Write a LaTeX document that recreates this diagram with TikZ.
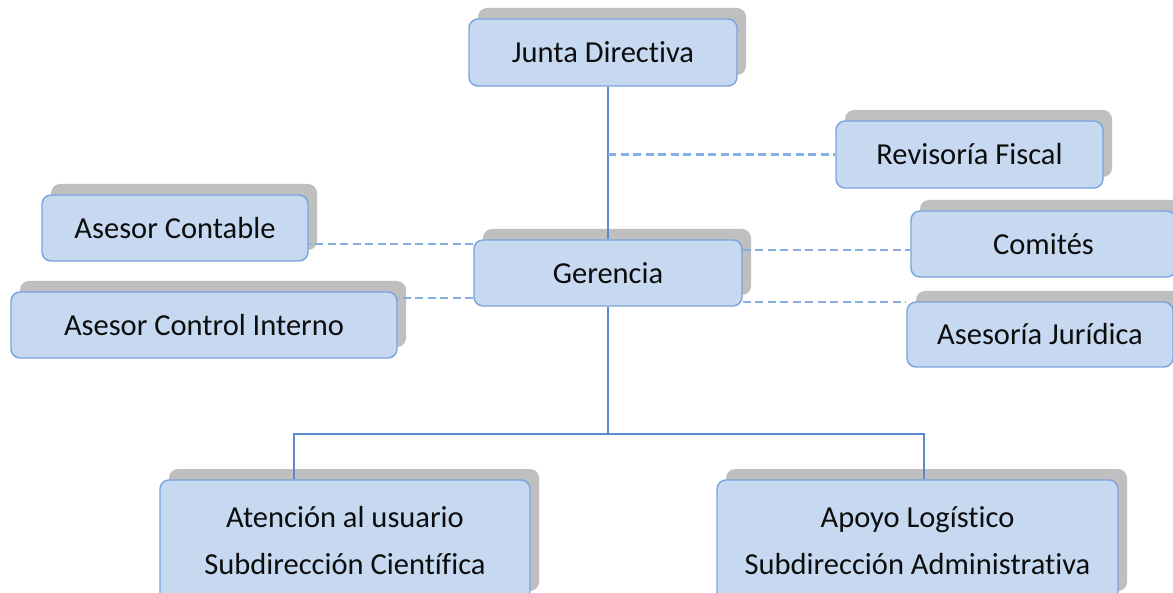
\documentclass[tikz,border=0pt]{standalone}
\usepackage{fontspec}
\setmainfont{Carlito}[Ligatures={NoCommon,NoDiscretionary,NoContextual}]
\usetikzlibrary{shadows}
\definecolor{boxfill}{HTML}{C6D9F1}
\definecolor{boxedge}{HTML}{7BA3DB}
\definecolor{solidline}{HTML}{5A8AD0}
\definecolor{dashline}{HTML}{86AEE2}
\definecolor{shadowgray}{HTML}{BFBFBF}
\definecolor{txt}{HTML}{0D0D0D}
\begin{document}
\begin{tikzpicture}[x=1pt,y=-1pt,
  orgbox/.style={draw=boxedge, line width=1.4pt, fill=boxfill, rounded corners=9pt,
    text=txt, align=center, inner sep=0pt,
    font=\fontsize{30.5}{47}\selectfont,
    general shadow={fill=shadowgray, shadow xshift=9pt, shadow yshift=11pt}},
  solidconn/.style={draw=solidline, line width=2.2pt},
  dashconn/.style={draw=dashline, line width=2.2pt, dash pattern=on 8pt off 4.5pt}]
\useasboundingbox (0,0) rectangle (1173,593);
\fill[white] (0,0) rectangle (1173,593);

\node[orgbox, minimum width=268pt, minimum height=67pt] (J) at (603,52.5) {Junta Directiva};
\node[orgbox, minimum width=267pt, minimum height=67pt] (R) at (969.5,154.5) {Revisoría Fiscal};
\node[orgbox, minimum width=266pt, minimum height=66pt] (AC) at (175,228) {Asesor Contable};
\node[orgbox, minimum width=268pt, minimum height=66pt] (G) at (608,273) {Gerencia};
\node[orgbox, minimum width=265pt, minimum height=66pt] (C) at (1043.5,244) {Comités};
\node[orgbox, minimum width=386pt, minimum height=66pt] (CI) at (204,325) {Asesor Control Interno};
\node[orgbox, minimum width=266pt, minimum height=65pt] (AJ) at (1040,334.5) {Asesoría Jurídica};
\node[orgbox, minimum width=370pt, minimum height=122pt] (A) at (345,541) {Atención al usuario\\Subdirección Científica};
\node[orgbox, minimum width=401pt, minimum height=122pt] (B) at (917.5,541) {Apoyo Logístico\\Subdirección Administrativa};

\coordinate (bus) at (608,434);

\draw[solidconn] (J.south -| G.north) -- (G.north);
\draw[dashconn] (R.west -| G.north) -- (R.west);
\draw[dashconn] ([yshift=29pt]G.west) -- ([yshift=29pt]G.west -| AC.east);
\draw[dashconn] ([yshift=-25pt]G.west) -- ([yshift=-25pt]G.west -| CI.east);
\draw[dashconn] ([yshift=23pt]G.east) -- ([yshift=23pt]G.east -| C.west);
\draw[dashconn] ([yshift=-29pt]G.east) -- ([yshift=-29pt]G.east -| AJ.west);
\draw[solidconn] (G.south) -- (bus);
\draw[solidconn] ([xshift=-51pt]A.north) |- (bus);
\draw[solidconn] ([xshift=6.5pt]B.north) |- (bus);
\end{tikzpicture}
\end{document}
